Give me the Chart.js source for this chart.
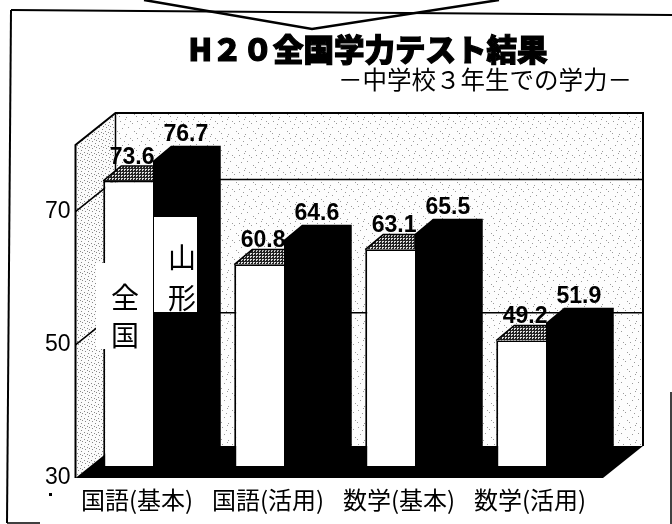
<!DOCTYPE html>
<html lang="ja">
<head>
  <meta charset="UTF-8">
  <title>H20全国学力テスト結果</title>
  <script src="https://cdn.jsdelivr.net/npm/chart.js"></script>
  <style>
    html, body { margin: 0; padding: 0; background: #fff; overflow: hidden; }
    canvas { display: block; }
  </style>
</head>
<body>
  <canvas id="scoreChart" width="672" height="524"></canvas>

  <script>
    const categories = ['国語(基本)', '国語(活用)', '数学(基本)', '数学(活用)'];
    const seriesNames = ['全国', '山形'];
    const nationalScores = [73.6, 60.8, 63.1, 49.2];
    const yamagataScores = [76.7, 64.6, 65.5, 51.9];
    const yTicks = [30, 50, 70];
    const titleText = 'H２０全国学力テスト結果';
    const subtitleText = '－中学校３年生での学力－';

    const JP_FONT = '"Noto Sans CJK JP", sans-serif';
    const NUM_FONT = '"Liberation Sans", sans-serif';

    // depth of the chart box and of the bars
    const WALL_DX = 40, WALL_DY = -32;
    const BAR_DX = 18, BAR_DY = -15;

    // fixed speckle tile for the walls
    function makeTile(size, dots, bg, fg) {
      const c = document.createElement('canvas');
      c.width = c.height = size;
      const g = c.getContext('2d');
      g.fillStyle = bg;
      g.fillRect(0, 0, size, size);
      g.fillStyle = fg;
      dots.forEach(d => g.fillRect(d[0], d[1], 1, 1));
      return c;
    }
    const wallTile = makeTile(17, [[1,2],[6,0],[13,4],[3,9],[9,8],[0,14],[15,12],[7,15],[11,2],[5,5]], '#fdfdfd', '#9a9a9a');
    const sideTile = makeTile(7, [[1,1],[4,3],[0,5],[5,0],[3,6]], '#fbfbfb', '#888');
    const topTile = makeTile(3, [[0,0],[1,0],[2,0],[0,1],[0,2],[2,2]], '#ddd', '#222');

    function poly(ctx, pts, fill) {
      ctx.beginPath();
      pts.forEach((p, i) => i ? ctx.lineTo(p[0], p[1]) : ctx.moveTo(p[0], p[1]));
      ctx.closePath();
      ctx.fillStyle = fill;
      ctx.fill();
    }

    function line(ctx, pts, w) {
      ctx.beginPath();
      pts.forEach((p, i) => i ? ctx.lineTo(p[0], p[1]) : ctx.moveTo(p[0], p[1]));
      ctx.lineWidth = w;
      ctx.strokeStyle = '#000';
      ctx.stroke();
    }

    const boxPlugin = {
      id: 'box3d',
      beforeDraw(chart) {
        const ctx = chart.ctx;
        const y = chart.scales.y;
        const area = chart.chartArea;
        const x0 = area.left - 12, x1 = area.right - 8.5;
        const top = y.getPixelForValue(80), bottom = y.getPixelForValue(30);
        const bx0 = x0 + WALL_DX, bx1 = x1 + WALL_DX;
        const btop = top + WALL_DY, bbottom = bottom + WALL_DY;
        ctx.save();

        // page frame and the callout arrow above it
        line(ctx, [[11, 10], [672, 15]], 2);
        line(ctx, [[11, 10], [7, 523]], 2);
        line(ctx, [[7, 523], [40, 523]], 1.5);
        line(ctx, [[671, 392], [671, 524]], 1.5);
        line(ctx, [[144, 0], [312, 29], [499, 0]], 2.5);

        // title
        ctx.fillStyle = '#000';
        ctx.strokeStyle = '#000';
        ctx.textAlign = 'center';
        ctx.textBaseline = 'middle';
        ctx.font = '900 30.5px ' + JP_FONT;
        ctx.lineWidth = 1.2;
        ctx.fillText(titleText, 368, 49);
        ctx.strokeText(titleText, 368, 49);
        ctx.font = '24.5px ' + JP_FONT;
        ctx.fillText(subtitleText, 485, 80);

        // stray speck of the scan next to the axis
        ctx.fillRect(49, 493, 3, 3);

        // walls and floor
        poly(ctx, [[bx0, btop], [bx1, btop], [bx1, bbottom], [bx0, bbottom]], ctx.createPattern(wallTile, 'repeat'));
        poly(ctx, [[x0, top], [bx0, btop], [bx0, bbottom], [x0, bottom]], ctx.createPattern(sideTile, 'repeat'));
        poly(ctx, [[x0, bottom], [bx0, bbottom], [bx1, bbottom], [x1, bottom]], '#000');

        line(ctx, [[x0, bottom], [x0, top], [bx0, btop], [bx1, btop], [bx1, bbottom]], 2);
        line(ctx, [[bx0, btop], [bx0, bbottom]], 1.5);
        y.ticks.forEach(t => {
          const py = y.getPixelForValue(t.value);
          if (t.value > 30) {
            line(ctx, [[x0, py], [bx0, py + WALL_DY], [bx1, py + WALL_DY]], 1.5);
          }
        });
        ctx.restore();
      },
      beforeDatasetsDraw(chart) {
        // side and top faces of the bars, behind the front faces
        const ctx = chart.ctx;
        ctx.save();
        chart.getDatasetMeta(0).data.forEach(bar => {
          const l = bar.x - bar.width / 2, r = bar.x + bar.width / 2;
          poly(ctx, [[l, bar.y], [l + BAR_DX, bar.y + BAR_DY], [r, bar.y + BAR_DY], [r, bar.y]], ctx.createPattern(topTile, 'repeat'));
          line(ctx, [[l, bar.y], [l + BAR_DX, bar.y + BAR_DY], [r, bar.y + BAR_DY]], 1.5);
        });
        chart.getDatasetMeta(1).data.forEach(bar => {
          const l = bar.x - bar.width / 2, r = bar.x + bar.width / 2;
          poly(ctx, [[l, bar.y], [l + BAR_DX, bar.y + BAR_DY], [r + BAR_DX, bar.y + BAR_DY], [r + BAR_DX, bar.base + BAR_DY], [r, bar.base]], '#000');
        });
        ctx.restore();
      },
      afterDatasetsDraw(chart) {
        const ctx = chart.ctx;
        ctx.save();

        // series names written on the first pair of bars
        ctx.fillStyle = '#fff';
        ctx.fillRect(96, 263, 54, 86);
        ctx.fillRect(154, 217, 43, 95);
        ctx.fillStyle = '#000';
        ctx.textAlign = 'center';
        ctx.textBaseline = 'middle';
        ctx.font = '28px ' + JP_FONT;
        ctx.fillText(seriesNames[0][0], 125, 297);
        ctx.fillText(seriesNames[0][1], 125, 335);
        ctx.fillText(seriesNames[1][0], 182, 257);
        ctx.fillText(seriesNames[1][1], 182, 298);

        // value labels
        ctx.font = 'bold 24px ' + NUM_FONT;
        chart.data.datasets.forEach((ds, i) => {
          chart.getDatasetMeta(i).data.forEach((bar, j) => {
            ctx.save();
            ctx.translate(bar.x + (i ? 8 : 4), bar.y - (i ? 26 : 24));
            ctx.scale(0.96, 1);
            ctx.fillText(ds.data[j].toFixed(1), 0, 0);
            ctx.restore();
          });
        });
        ctx.restore();
      }
    };

    new Chart(document.getElementById('scoreChart').getContext('2d'), {
      type: 'bar',
      data: {
        labels: categories,
        datasets: [
          {
            label: seriesNames[0],
            data: nationalScores,
            base: 30,
            yAxisID: 'y2',
            backgroundColor: '#fff',
            borderColor: '#000',
            borderWidth: { left: 2, top: 1.5 }
          },
          {
            label: seriesNames[1],
            data: yamagataScores,
            base: 30,
            yAxisID: 'y2',
            backgroundColor: '#000',
            borderWidth: 0
          }
        ]
      },
      options: {
        responsive: false,
        animation: false,
        layout: { padding: { top: 145, right: 60.5, left: 0, bottom: 0 } },
        plugins: { legend: { display: false }, tooltip: { enabled: false } },
        scales: {
          x: {
            grid: { display: false, drawTicks: false },
            border: { display: false },
            ticks: {
              color: '#000',
              padding: 7,
              labelOffset: -16,
              maxRotation: 0,
              autoSkip: false,
              font: { family: JP_FONT, size: 24 }
            },
            afterFit(s) { s.height = 46; }
          },
          // the front plane of the box, carries the tick labels
          y: {
            min: 30,
            max: 80,
            grid: { display: false, drawTicks: false },
            border: { display: false },
            afterBuildTicks(s) { s.ticks = yTicks.map(v => ({ value: v })); },
            ticks: {
              color: '#000',
              padding: 17,
              font: { family: NUM_FONT, size: 23 }
            },
            afterFit(s) { s.width = 87.5; }
          },
          // the plane the bars stand on, a little behind the front
          y2: {
            display: false,
            min: 28.17,
            max: 79.09
          }
        },
        datasets: { bar: { categoryPercentage: 0.76, barPercentage: 1 } }
      },
      plugins: [boxPlugin]
    });
  </script>
</body>
</html>
